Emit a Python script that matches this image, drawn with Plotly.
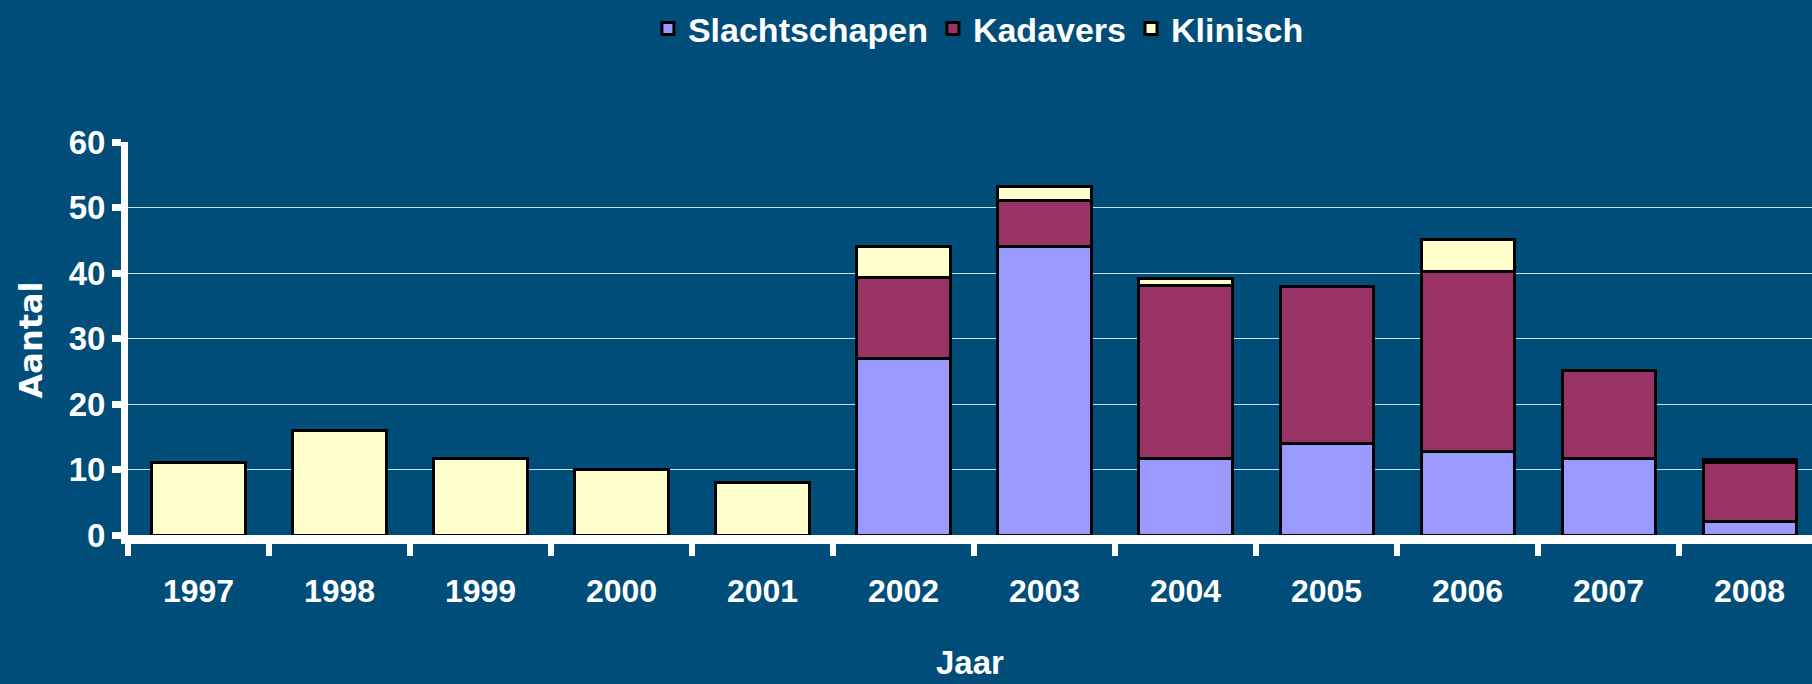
import plotly.graph_objects as go

years = ["1997", "1998", "1999", "2000", "2001", "2002", "2003", "2004", "2005", "2006", "2007", "2008"]
slachtschapen = [0, 0, 0, 0, 0, 27, 44, 11.7, 14, 12.8, 11.7, 2]
kadavers = [0, 0, 0, 0, 0, 12.3, 7, 26.4, 24, 27.4, 13.4, 9]
klinisch = [11, 16, 11.7, 10, 8, 4.8, 2.2, 1, 0, 4.9, 0, 0.6]

series = [
    ("Slachtschapen", slachtschapen, "#9999FF"),
    ("Kadavers", kadavers, "#993366"),
    ("Klinisch", klinisch, "#FFFFCC"),
]

BG = "#004D7A"
SANS = "Liberation Sans, Arial, sans-serif"
WIDE = "DejaVu Sans, sans-serif"

fig = go.Figure()
for name, vals, col in series:
    fig.add_trace(go.Bar(
        x=years, y=vals, name=name,
        marker=dict(color=col, line=dict(color="black", width=3)),
    ))

fig.update_layout(
    width=1812, height=684,
    barmode="stack", bargap=0.34,
    paper_bgcolor=BG, plot_bgcolor=BG,
    margin=dict(l=128, r=0, t=141, b=149),
    font=dict(family=SANS, color="white", size=32),
    showlegend=True,
    legend=dict(
        orientation="h", x=0.505, xanchor="center", y=1.287, yanchor="middle",
        bgcolor="rgba(0,0,0,0)", font=dict(family=SANS, size=34, color="white", weight="bold"),
        itemwidth=30, traceorder="normal",
    ),
    xaxis=dict(
        type="category", range=[-0.5, 11.443],
        showline=True, linecolor="white", linewidth=9,
        ticks="outside", tickson="boundaries", ticklen=12, tickwidth=6, tickcolor="white",
        tickfont=dict(family=SANS, size=32, color="white", weight="bold"),
        ticklabelstandoff=20,
        showgrid=False, zeroline=False,
    ),
    yaxis=dict(
        range=[0, 60], tickvals=[0, 10, 20, 30, 40, 50, 60],
        showline=True, linecolor="white", linewidth=7,
        ticks="outside", ticklen=9, tickwidth=7, tickcolor="white",
        tickfont=dict(family=SANS, size=33, color="white", weight="bold"),
        ticklabelstandoff=0,
        showgrid=True, gridcolor="#D0DEEC", gridwidth=1,
        zeroline=False,
    ),
    annotations=[
        dict(text="<b>Jaar</b>", xref="paper", yref="paper", x=0.5, y=-0.325,
             xanchor="center", yanchor="middle", showarrow=False,
             font=dict(family=SANS, size=33, color="white")),
        dict(text="<b>Aantal</b>", xref="paper", yref="paper", x=-0.0576, y=0.495,
             xanchor="center", yanchor="middle", showarrow=False, textangle=-90,
             font=dict(family=WIDE, size=32, color="white")),
    ],
)

fig.write_html("out.html", config={"displayModeBar": False},
               post_script="document.body.style.margin='0px';document.body.style.overflow='hidden';")
